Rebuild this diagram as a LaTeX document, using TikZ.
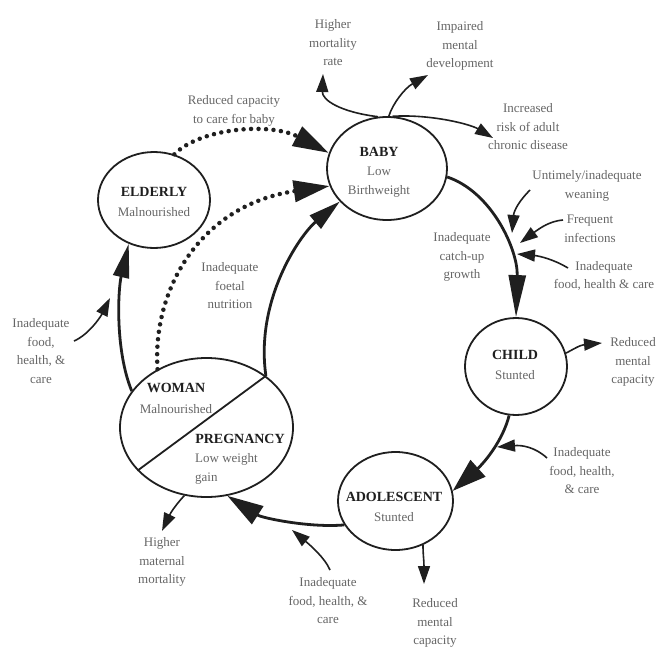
\documentclass[tikz,border=0pt]{standalone}
\usepackage{fontspec}
\setmainfont{Liberation Serif}
\usetikzlibrary{shapes.geometric,arrows.meta}
\definecolor{lbl}{gray}{0.40}
\definecolor{ink}{gray}{0.12}
\begin{document}
\begin{tikzpicture}[x=1pt,y=-1pt,
  circ/.style={draw=ink, ellipse, line width=1.8pt, inner sep=0pt},
  lab/.style={text=lbl, font=\fontsize{13}{18.5}\selectfont, align=center, inner sep=0pt},
  ttl/.style={font=\fontsize{14}{20}\selectfont\bfseries, text=ink, align=center, inner sep=0pt},
  cyc/.style={draw=ink, line width=2.8pt, -{Triangle[length=36pt,width=21pt]}},
  dotcyc/.style={draw=ink, line width=4.5pt, line cap=round, dash pattern=on 0pt off 7.5pt, -{Triangle[length=36pt,width=21pt]}},
  side/.style={draw=ink, line width=1.6pt, -{Triangle[length=18pt,width=12pt]}}
]
\useasboundingbox (0,0) rectangle (659,653);
\fill[white] (0,0) rectangle (659,653);

% ellipses
\node[circ, minimum width=120pt, minimum height=103pt] (baby) at (387,168.5) {};
\node[circ, minimum width=112pt, minimum height=96pt] (elderly) at (154,200) {};
\node[circ, minimum width=173pt, minimum height=139pt] (woman) at (206.5,427.5) {};
\node[circ, minimum width=102pt, minimum height=97pt] (child) at (516,366.5) {};
\node[circ, minimum width=115pt, minimum height=98pt] (adol) at (395.5,501) {};
\draw[draw=ink, line width=1.8pt] (woman.41) -- (woman.212);

% node texts
\node[ttl] (babyT) at (379,152) {BABY};
\node[lab] (babyS) at (379,182) {Low\\Birthweight};
\node[ttl] (eldT) at (154,192) {ELDERLY};
\node[lab] (eldS) at (154,212) {Malnourished};
\node[ttl] (womT) at (176,388) {WOMAN};
\node[lab] (womS) at (176,409) {Malnourished};
\node[ttl] (pregT) at (240,439) {PREGNANCY};
\node[lab, align=left, anchor=west] (pregS) at (195,469) {Low weight\\gain};
\node[ttl] (chT) at (515,355) {CHILD};
\node[lab] (chS) at (515,375) {Stunted};
\node[ttl] (adT) at (394,497) {ADOLESCENT};
\node[lab] (adS) at (394,517) {Stunted};

% labels
\node[lab] (mort) at (333,43) {Higher\\mortality\\rate};
\node[lab] (impair) at (460,46) {Impaired\\mental\\development};
\node[lab] (chronic) at (528,127) {Increased\\risk of adult\\chronic disease};
\node[lab] (care) at (234,111) {Reduced capacity\\to care for baby};
\node[lab] (foetal) at (230,286) {Inadequate\\foetal\\nutrition};
\node[lab] (catch) at (462,257) {Inadequate\\catch-up\\growth};
\node[lab] (wean) at (587,186) {Untimely/inadequate\\weaning};
\node[lab] (infect) at (590,229) {Frequent\\infections};
\node[lab] (food1) at (604,276) {Inadequate\\food, health \& care};
\node[lab] (redC) at (633,362) {Reduced\\mental\\capacity};
\node[lab] (food2) at (582,471) {Inadequate\\food, health,\\\& care};
\node[lab] (redA) at (435,623) {Reduced\\mental\\capacity};
\node[lab] (food3) at (328,601) {Inadequate\\food, health, \&\\care};
\node[lab] (matmort) at (162,562) {Higher\\maternal\\mortality};
\node[lab] (food4) at (41,351) {Inadequate\\food,\\health, \&\\care};

% free ends
\coordinate (tMort) at (323,74);
\coordinate (tImp) at (428,75);
\coordinate (tChr) at (493,138);
\coordinate (sWean) at (530,190); \coordinate (tWean) at (512,233);
\coordinate (sInf) at (563,220); \coordinate (tInf) at (520,243);
\coordinate (sFood1) at (568,268); \coordinate (tFood1) at (517,254);
\coordinate (tRedC) at (602,343);
\coordinate (sFood2) at (547,458); \coordinate (tFood2) at (497,447);
\coordinate (tRedA) at (424,584);
\coordinate (sFood3) at (330,570); \coordinate (tFood3) at (292,530);
\coordinate (tMat) at (162,531);
\coordinate (sFood4) at (74,341); \coordinate (tFood4) at (110,298);

% main cycle
\draw[cyc, -{Triangle[length=42pt,width=17pt]}] (baby.-8) .. controls (492,192) and (518,250) .. (child.north);
\draw[cyc, -{Triangle[length=34pt,width=22pt]}] (child.262) .. controls (503,440) and (485,462) .. (adol.10);
\draw[cyc] (adol.205) .. controls (310,528) and (262,518) .. (woman.287);
\draw[cyc, -{Triangle[length=32pt,width=17pt]}] (woman.41) .. controls (255,300) and (300,235) .. (baby.215);
\draw[cyc, -{Triangle[length=34pt,width=16pt]}] (woman.154) .. controls (115,350) and (118,290) .. (elderly.240);

% dotted
\draw[dotcyc] (elderly.66) .. controls (200,128) and (270,122) .. (baby.165);
\draw[dotcyc] (woman.130) .. controls (152,290) and (200,205) .. (baby.197);

% side arrows
\draw[side] (baby.100) .. controls (340,112) and (322,100) .. (tMort);
\draw[side] (baby.88) .. controls (393,103) and (405,88) .. (tImp);
\draw[side] (baby.84) .. controls (430,114) and (470,124) .. (tChr);
\draw[side] (sWean) .. controls (520,200) and (514,210) .. (tWean);
\draw[side] (sInf) .. controls (550,221) and (540,228) .. (tInf);
\draw[side] (sFood1) .. controls (555,260) and (540,256) .. (tFood1);
\draw[side] (child.15) .. controls (572,350) and (580,345) .. (tRedC);
\draw[side] (sFood2) .. controls (535,447) and (522,445) .. (tFood2);
\draw[side] (adol.-58) .. controls (423,555) and (424,560) .. (tRedA);
\draw[side] (sFood3) .. controls (325,558) and (310,545) .. (tFood3);
\draw[side] (woman.252) .. controls (180,500) and (172,510) .. (tMat);
\draw[side] (sFood4) .. controls (88,335) and (100,318) .. (tFood4);
\end{tikzpicture}
\end{document}
